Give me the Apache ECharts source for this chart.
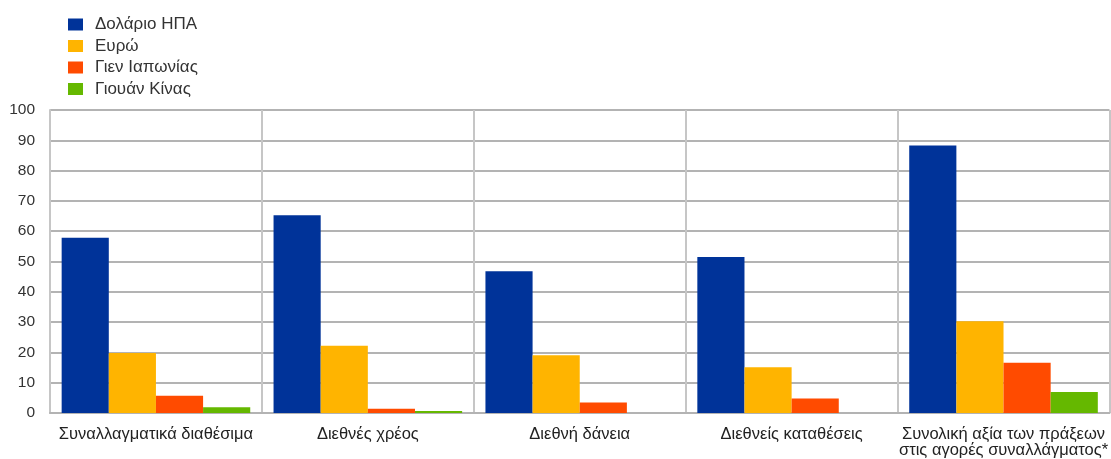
<!DOCTYPE html>
<html>
<head>
<meta charset="utf-8">
<script src="https://cdn.jsdelivr.net/npm/echarts@6/dist/echarts.min.js"></script>
<style>
html,body{margin:0;padding:0;background:#fff;}
#chart{width:1111px;height:459px;}
</style>
</head>
<body>
<div id="chart"></div>
<script>
const categories = [
  "Συναλλαγματικά διαθέσιμα",
  "Διεθνές χρέος",
  "Διεθνή δάνεια",
  "Διεθνείς καταθέσεις",
  "Συνολική αξία των πράξεων\nστις αγορές συναλλάγματος*"
];
const seriesNames = ["Δολάριο ΗΠΑ", "Ευρώ", "Γιεν Ιαπωνίας", "Γιουάν Κίνας"];
const usd = [57.8, 65.3, 46.8, 51.5, 88.3];
const eur = [19.8, 22.2, 19.1, 15.1, 30.3];
const jpy = [5.7, 1.4, 3.5, 4.8, 16.6];
const cny = [1.9, 0.7, 0, 0, 6.9];
const yTicks = [0, 10, 20, 30, 40, 50, 60, 70, 80, 90, 100];

const colors = ["#003399", "#ffb400", "#ff4b00", "#65b800"];
const values = [usd, eur, jpy, cny];
const font = "Liberation Sans, Arial, sans-serif";

const chart = echarts.init(document.getElementById('chart'), null, {renderer: 'canvas'});
chart.setOption({
  animation: false,
  color: colors,
  textStyle: {fontFamily: font},
  legend: {
    orient: 'vertical',
    left: 63,
    top: 11,
    itemWidth: 15,
    itemHeight: 12,
    itemGap: 4.5,
    icon: 'rect',
    textStyle: {fontSize: 17, lineHeight: 17, color: '#333', fontFamily: font, padding: [0, 0, 0, 7]},
    data: seriesNames
  },
  grid: {left: 50, right: 1, top: 110, bottom: 46, containLabel: false},
  xAxis: {
    type: 'category',
    data: categories,
    boundaryGap: true,
    axisLine: {lineStyle: {color: '#b3b3b3', width: 2}},
    axisTick: {show: false},
    splitLine: {show: true, lineStyle: {color: '#c6c6c6', width: 2}},
    axisLabel: {fontSize: 16.5, color: '#222', margin: 13, lineHeight: 16, interval: 0, fontFamily: font}
  },
  yAxis: {
    type: 'value',
    min: 0,
    max: 100,
    interval: 10,
    axisLine: {show: true, lineStyle: {color: '#c6c6c6', width: 2}},
    axisTick: {show: false},
    splitLine: {show: true, lineStyle: {color: '#b3b3b3', width: 2}},
    axisLabel: {fontSize: 15.5, color: '#333', margin: 15, fontFamily: font,
      formatter: v => yTicks.includes(v) ? String(v) : ''}
  },
  series: seriesNames.map((n, i) => ({
    name: n,
    type: 'bar',
    data: values[i],
    barGap: '0%',
    barCategoryGap: '11%',
    itemStyle: {color: colors[i]}
  }))
});
</script>
</body>
</html>
